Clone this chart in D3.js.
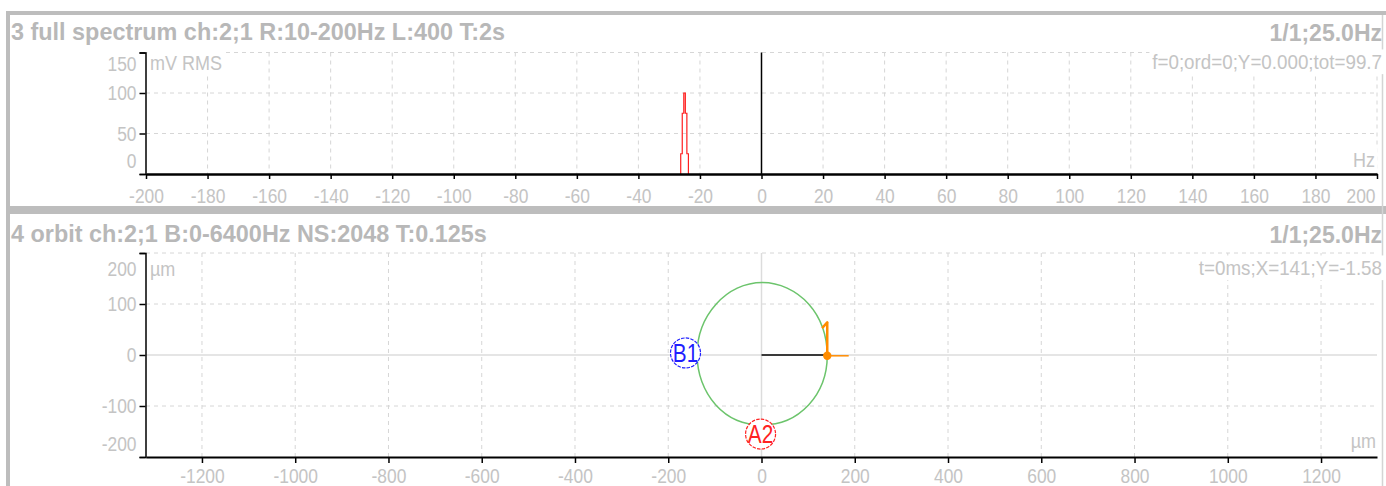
<!DOCTYPE html>
<html><head><meta charset="utf-8">
<script src="https://cdn.jsdelivr.net/npm/d3@7"></script>
<style>
html,body{margin:0;padding:0;background:#fff;overflow:hidden;}
svg{display:block;font-family:"Liberation Sans",Arial,Helvetica,sans-serif;}
</style></head><body>
<svg id="c" width="1386" height="486"></svg>
<script>
// ---------- data ----------
const spectrumTitle = "3 full spectrum ch:2;1 R:10-200Hz L:400 T:2s";
const orbitTitle = "4 orbit ch:2;1 B:0-6400Hz NS:2048 T:0.125s";
const speedLabel = "1/1;25.0Hz";
const spectrumInfo = "f=0;ord=0;Y=0.000;tot=99.7";
const orbitInfo = "t=0ms;X=141;Y=-1.58";
const spectrumYUnit = "mV RMS";
const spectrumXUnit = "Hz";
const orbitUnit = "µm";

const specFreq = [-26.5, -26, -25.5, -25, -24.5, -24, -23.5];
const specAmp  = [0, 25, 75, 100, 75, 25, 0];
const specXTicks = [-200,-180,-160,-140,-120,-100,-80,-60,-40,-20,0,20,40,60,80,100,120,140,160,180,200];
const specYTicks = [0, 50, 100, 150];
const cursorFreq = 0;

const orbitX = [141, 131, 101, 55, 2, -52, -97, -128, -138, -128, -98, -53, 1, 55, 101, 131];
const orbitY = [-1.6, 54, 100, 131, 142, 131, 100, 54, 1, -52, -98, -128, -137, -128, -98, -54];
const orbitXTicks = [-1200,-1000,-800,-600,-400,-200,0,200,400,600,800,1000,1200];
const orbitYTicks = [-200, -100, 0, 100, 200];
const currentPoint = [141, -1.58];
const velocityTip = [141, 64];
const directionTip = [187, -1.58];
const markerLabels = ["B1", "A2"];
const markerX = [-163, -2];
const markerY = [4, -155];
const markerColors = ["#1f1fff", "#ff2222"];

// ---------- layout ----------
const svg = d3.select("#c");
const GRID = "#d6d6d6", TXT = "#c4c4c4", TITLE = "#b8b8b8", BORDER = "#bdbdbd";
const FS = 20, SX = 0.87;
const fmt = d => String(d);

// borders
svg.append("rect").attr("x",8).attr("y",13).attr("width",1380).attr("height",195)
  .attr("fill","#fff").attr("stroke",BORDER).attr("stroke-width",4);
svg.append("rect").attr("x",8).attr("y",212).attr("width",1380).attr("height",300)
  .attr("fill","#fff").attr("stroke",BORDER).attr("stroke-width",4);
svg.append("line").attr("x1",1382.5).attr("x2",1382.5).attr("y1",15).attr("y2",486)
  .attr("stroke","#d4d4d4").attr("stroke-width",1.5);

function title(t, y){
  svg.append("text").attr("x",11).attr("y",y).attr("fill",TITLE)
    .attr("font-size",23.4).attr("font-weight","bold").text(t);
  svg.append("text").attr("x",1382).attr("y",y+1).attr("fill",TITLE)
    .attr("font-size",23).attr("font-weight","bold").attr("text-anchor","end").text(speedLabel);
}
function label(t, x, y, anchor, sx, bg){
  const g = svg.append("g").attr("transform",`translate(${x},${y}) scale(${sx},1)`);
  const tx = g.append("text").attr("fill",TXT).attr("font-size",FS).attr("text-anchor",anchor).text(t);
  if(bg){
    const b = tx.node().getBBox();
    g.insert("rect","text").attr("x",b.x-3).attr("y",b.y-1).attr("width",b.width+6).attr("height",b.height+2).attr("fill","#fff");
  }
  return g;
}
function styleAxis(g, domainW){
  g.select(".domain").attr("stroke","#000").attr("stroke-width",domainW);
  g.selectAll(".tick line").attr("stroke","#000").attr("stroke-width",1.5);
  g.selectAll(".tick text").attr("fill",TXT).attr("font-size",FS)
    .attr("font-family","Liberation Sans, Arial, sans-serif");
}

// ---------- panel 1 : spectrum ----------
title(spectrumTitle, 40);
const x1 = d3.scaleLinear().domain([-200,200]).range([146,1377]);
const y1 = d3.scaleLinear().domain([0,150]).range([174,52.5]);
const p1 = svg.append("g");
p1.selectAll("line.hg").data(specYTicks.filter(d=>d!==0)).join("line")
  .attr("x1",x1(-200)).attr("x2",x1(200)).attr("y1",d=>y1(d)).attr("y2",d=>y1(d))
  .attr("stroke",GRID).attr("stroke-dasharray","4,4");
p1.selectAll("line.vg").data(specXTicks.filter(d=>d!==-200 && d!==cursorFreq)).join("line")
  .attr("y1",y1(150)).attr("y2",y1(0)).attr("x1",d=>x1(d)).attr("x2",d=>x1(d))
  .attr("stroke",GRID).attr("stroke-dasharray","4,4");
label(spectrumYUnit, 150, 70, "start", 0.9, true);
label(spectrumInfo, 1382, 69, "end", 0.94, true);
label(spectrumXUnit, 1375, 167, "end", 0.9, true);
p1.append("line").attr("x1",x1(cursorFreq)).attr("x2",x1(cursorFreq)).attr("y1",y1(150)).attr("y2",y1(0))
  .attr("stroke","#000").attr("stroke-width",1.5);
p1.append("path").datum(specFreq.map((f,i)=>[f,specAmp[i]]))
  .attr("d", d3.line().x(d=>x1(d[0])).y(d=>y1(d[1])).curve(d3.curveStep))
  .attr("fill","none").attr("stroke","#ff1f1f").attr("stroke-width",1.2);
const ya1 = p1.append("g").attr("transform",`translate(${x1(-200)-0.5},0)`)
  .call(d3.axisLeft(y1).tickValues(specYTicks).tickSize(6).tickSizeOuter(6).tickFormat(fmt));
styleAxis(ya1, 1.5);
ya1.selectAll(".tick text").attr("transform",`scale(${SX},1)`).attr("x",-9/SX)
  .attr("dy",null).attr("y",d=> d===150 ? 18.5 : d===0 ? -6.5 : 6.5);
const xa1 = p1.append("g").attr("transform",`translate(0,${y1(0)})`)
  .call(d3.axisBottom(x1).tickValues(specXTicks).tickSize(5).tickSizeOuter(0).tickFormat(fmt));
styleAxis(xa1, 2.5);
xa1.selectAll(".tick text").attr("transform",`scale(${SX},1)`).attr("dy",null).attr("y",29.3)
  .filter(d=>d===200).attr("text-anchor","end").attr("x",-2/SX);

// ---------- panel 2 : orbit ----------
title(orbitTitle, 242);
const x2 = d3.scaleLinear().domain([-1320,1320]).range([146,1377]);
const y2 = d3.scaleLinear().domain([-200,200]).range([457,253]);
const p2 = svg.append("g");
p2.selectAll("line.hg").data(orbitYTicks.filter(d=>d!==-200)).join("line")
  .attr("x1",x2(-1320)).attr("x2",x2(1320)).attr("y1",d=>y2(d)).attr("y2",d=>y2(d))
  .attr("stroke",d=>d===0?"#dcdcdc":GRID).attr("stroke-width",d=>d===0?1.5:1)
  .attr("stroke-dasharray",d=>d===0?null:"4,4");
p2.selectAll("line.vg").data(orbitXTicks).join("line")
  .attr("y1",y2(200)).attr("y2",y2(-200)).attr("x1",d=>x2(d)).attr("x2",d=>x2(d))
  .attr("stroke",d=>d===0?"#dcdcdc":GRID).attr("stroke-width",d=>d===0?1.5:1)
  .attr("stroke-dasharray",d=>d===0?null:"4,4");
label(orbitUnit, 150, 276, "start", 0.9, true);
label(orbitInfo, 1382, 275, "end", 0.94, true);
label(orbitUnit, 1376, 448, "end", 0.9, true);
p2.append("path").datum(orbitX.map((x,i)=>[x,orbitY[i]]))
  .attr("d", d3.line().x(d=>x2(d[0])).y(d=>y2(d[1])).curve(d3.curveCardinalClosed))
  .attr("fill","none").attr("stroke","#6cc46c").attr("stroke-width",1.5);
p2.append("line").attr("x1",x2(0)).attr("y1",y2(0)).attr("x2",x2(currentPoint[0])).attr("y2",y2(0))
  .attr("stroke","#000").attr("stroke-width",1.5);
p2.append("line").attr("x1",x2(currentPoint[0])).attr("y1",y2(currentPoint[1]))
  .attr("x2",x2(directionTip[0])).attr("y2",y2(directionTip[1]))
  .attr("stroke","#ff8c00").attr("stroke-width",1.5);
p2.append("line").attr("x1",x2(currentPoint[0])).attr("y1",y2(currentPoint[1]))
  .attr("x2",x2(velocityTip[0])).attr("y2",y2(velocityTip[1]))
  .attr("stroke","#ff8c00").attr("stroke-width",2.5);
p2.append("path")
  .attr("d",`M${x2(velocityTip[0])-4.5},${y2(velocityTip[1])+5}L${x2(velocityTip[0])},${y2(velocityTip[1])}`)
  .attr("stroke","#ff8c00").attr("stroke-width",2.5).attr("fill","none").attr("stroke-linecap","round");
p2.append("circle").attr("cx",x2(currentPoint[0])).attr("cy",y2(currentPoint[1])).attr("r",4.2)
  .attr("fill","#ff8c00");
const mk = p2.selectAll("g.mk").data(markerLabels).join("g")
  .attr("transform",(d,i)=>`translate(${x2(markerX[i])},${y2(markerY[i])})`);
mk.append("circle").attr("r",15).attr("fill","#fff")
  .attr("stroke",(d,i)=>markerColors[i]).attr("stroke-width",1.2).attr("stroke-dasharray","3.5,1.2");
mk.append("text").attr("transform","scale(0.8,1)").attr("text-anchor","middle").attr("dy","0.36em")
  .attr("font-size",26).attr("fill",(d,i)=>markerColors[i]).text(d=>d);
const ya2 = p2.append("g").attr("transform",`translate(${x2(-1320)-0.5},0)`)
  .call(d3.axisLeft(y2).tickValues(orbitYTicks).tickSize(6).tickSizeOuter(6).tickFormat(fmt));
styleAxis(ya2, 1.5);
ya2.selectAll(".tick text").attr("transform",`scale(${SX},1)`).attr("x",-9/SX)
  .attr("dy",null).attr("y",d=> d===200 ? 23 : d===-200 ? -7 : 6.5);
const xa2 = p2.append("g").attr("transform",`translate(0,${y2(-200)})`)
  .call(d3.axisBottom(x2).tickValues(orbitXTicks).tickSize(6).tickSizeOuter(0).tickFormat(fmt));
styleAxis(xa2, 2);
xa2.selectAll(".tick text").attr("transform",`scale(${SX},1)`).attr("dy",null).attr("y",26);
</script>
</body></html>
